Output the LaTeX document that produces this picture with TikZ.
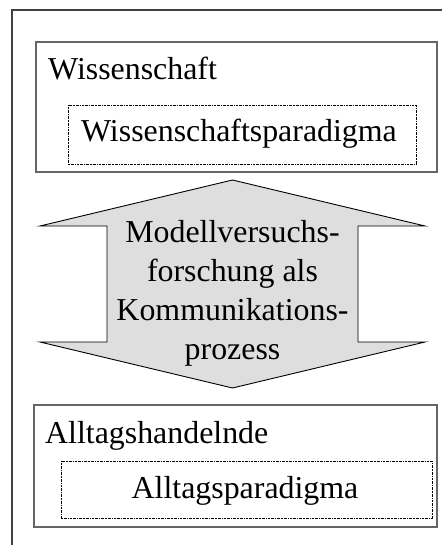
\documentclass[tikz,border=0pt]{standalone}
\usepackage{fontspec}
\setmainfont{Liberation Serif}
\begin{document}
\begin{tikzpicture}[x=1bp,y=-1bp,
  frame/.style={draw=black!75, line width=1.5bp},
  group/.style={draw=black!60, line width=1.3bp, inner sep=0pt},
  paradigm/.style={draw=black, line width=0.8bp,
    dash pattern=on 2bp off 0.8bp on 0.8bp off 0.8bp, inner sep=0pt},
  label/.style={inner sep=0pt, font=\fontsize{32}{39.3}\selectfont},
  arrowshape/.style={draw=black, line width=0.9bp, fill=black!13}]
\useasboundingbox (0,0) rectangle (442,545);
\clip (0,0) rectangle (442,545);
\fill[white] (0,0) rectangle (442,545);
% outer frame, running past the page edge on the right and bottom
\draw[frame] (12,10) rectangle (460,570);
% science block
\node[group, minimum width=401bp, minimum height=130bp] (wiss) at (236.5,107) {};
\node[paradigm, minimum width=348bp, minimum height=59bp] (wissp) at (242,134.5) {};
\node[label, anchor=base west] (wisst) at (48,80) {Wissenschaft};
\node[label, anchor=base] (wisspt) at (239,142) {Wissenschaftsparadigma};
% everyday block
\node[group, minimum width=403bp, minimum height=122bp] (allt) at (235.5,466) {};
\node[paradigm, minimum width=371bp, minimum height=57bp] (alltp) at (246.5,489.5) {};
\node[label, anchor=base west] (alltt) at (45,443) {Alltagshandelnde};
\node[label, anchor=base] (alltpt) at (245,498) {Alltagsparadigma};
% double-headed arrow between the blocks
\draw[arrowshape] (232.5,180) -- (425,226) -- (358,226) -- (358,342) -- (425,342)
  -- (232.5,388) -- (40,342) -- (107,342) -- (107,226) -- (40,226) -- cycle;
\node[label, align=center] (komm) at (232.5,293.5)
  {Modellversuchs-\\forschung als\\Kommunikations-\\prozess};
\end{tikzpicture}
\end{document}
